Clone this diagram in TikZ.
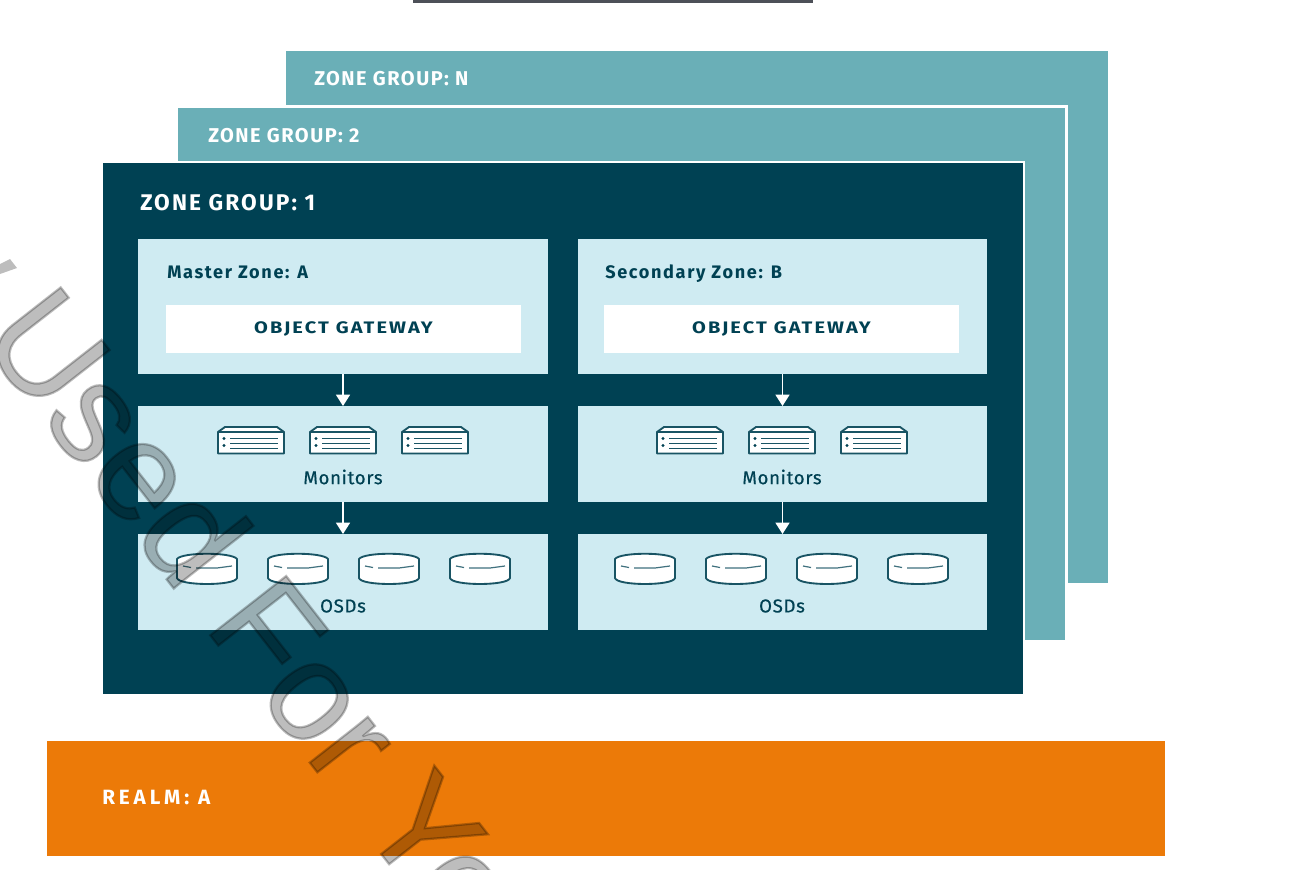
\documentclass[tikz,border=0pt]{standalone}
\usepackage{fontspec}
\setmainfont{Fira Sans}
\newfontfamily\wmfont[FakeBold=1.6]{Liberation Sans}
\newfontfamily\zonefont[LetterSpace=7.5]{Fira Sans}
\newfontfamily\frontfont[LetterSpace=9.5]{Fira Sans}
\newfontfamily\realmfont[LetterSpace=19]{Fira Sans}
\newfontfamily\gatefont[LetterSpace=12.5,FakeStretch=1.2]{Fira Sans}
\newfontfamily\panelfont[LetterSpace=9]{Fira Sans}
\newfontfamily\capfont[LetterSpace=3.5,FakeBold=0.5]{Fira Sans}
\usetikzlibrary{arrows.meta}
\definecolor{deep}{HTML}{004153}
\definecolor{teal}{HTML}{6AAFB7}
\definecolor{pale}{HTML}{CFEBF2}
\definecolor{realmc}{HTML}{EC7A08}
\definecolor{barc}{HTML}{4D5058}
\def\px{0.75pt}
\tikzset{
  x=0.75pt,y=-0.75pt,
  box/.style 2 args={anchor=north west,inner sep=0pt,outer sep=0pt,minimum width=#1*\px,minimum height=#2*\px},
  backzone/.style={fill=teal,draw=white,line width=2.2pt},
  frontzone/.style={fill=deep,draw=white,line width=1.6pt},
  panel/.style={fill=pale},
  gw/.style={fill=white,font=\gatefont\bfseries\fontsize{12.5}{16}\selectfont,text=deep},
  ztitle/.style={anchor=west,inner sep=0pt,text=white,font=\zonefont\bfseries\fontsize{15}{18}\selectfont},
  ptitle/.style={anchor=base west,inner sep=0pt,text=deep,font=\panelfont\bfseries\fontsize{13.6}{16}\selectfont},
  caption/.style={inner sep=0pt,text=deep,font=\capfont\fontsize{14}{16}\selectfont},
  link/.style={white,line width=1.1pt,-{Triangle[length=8.5pt,width=10.5pt,fill=white]}},
  icon/.style={draw=deep!90,line width=1.4pt,fill=white,line join=round},
  iconline/.style={draw=deep!90,line width=0.9pt},
  serverpic/.pic={
    \path[icon] (-33,13) -- (-33,-8.5) -- (-26,-13.5) -- (26,-13.5) -- (33,-8.5) -- (33,13) -- cycle;
    \draw[iconline] (-33,-8.5) -- (33,-8.5);
    \draw[iconline] (-21,-2) -- (27,-2) (-21,3) -- (27,3) (-21,8) -- (27,8);
    \fill[deep] (-27,-2) circle (1.6) (-27,5) circle (1.6);
  },
  diskpic/.pic={
    \path[icon] (-30,-10) .. controls (-25,-17) and (25,-17) .. (30,-10) -- (30,9)
      .. controls (28,17) and (-28,17) .. (-30,9) -- cycle;
    \draw[iconline,draw=deep!75] (-24,-3) -- (-16,-1.5);
    \draw[iconline,draw=deep!75] (-11,-1) -- (10,-1) -- (25,-3);
  },
}
\begin{document}
\begin{tikzpicture}
\useasboundingbox (0,0) rectangle (1296,870);
\clip (0,0) rectangle (1296,870);
\node[box={400}{3},fill=barc] (bar) at (413,0) {};

\node[box={822}{532},fill=teal] (zn) at (286,51) {};
\node[box={890}{535},backzone] (z2) at (176.5,106.5) {};
\node[box={922}{533},frontzone] (z1) at (102,162) {};
\node[ztitle] (zntxt) at (314,79) {ZONE GROUP: N};
\node[ztitle] (z2txt) at (208,136) {ZONE GROUP: 2};
\node[ztitle,font=\frontfont\bfseries\fontsize{17}{20}\selectfont] (z1txt) at (140,203) {ZONE GROUP: 1};

% left column
\node[box={410}{135},panel] (ma) at (138,239) {};
\node[ptitle] (matxt) at (167,278) {Master Zone: A};
\node[box={355}{48},gw] (ga) at (166,305) {OBJECT GATEWAY};
\node[box={410}{96},panel] (mona) at (138,406) {};
\node[caption] (monatxt) at (343,477) {Monitors};
\node[box={410}{96},panel] (osda) at (138,534) {};
\node[caption] (osdatxt) at (343,606) {OSDs};
\draw[link] (ma.south) -- (mona.north);
\draw[link] (mona.south) -- (osda.north);
\pic at (251,440.5) {serverpic};
\pic at (343,440.5) {serverpic};
\pic at (435,440.5) {serverpic};
\pic at (207,569) {diskpic};
\pic at (298,569) {diskpic};
\pic at (389,569) {diskpic};
\pic at (480,569) {diskpic};

% right column
\node[box={409}{135},panel] (sb) at (578,239) {};
\node[ptitle] (sbtxt) at (605,278) {Secondary Zone: B};
\node[box={355}{48},gw] (gb) at (604,305) {OBJECT GATEWAY};
\node[box={409}{96},panel] (monb) at (578,406) {};
\node[caption] (monbtxt) at (782,477) {Monitors};
\node[box={409}{96},panel] (osdb) at (578,534) {};
\node[caption] (osdbtxt) at (782,606) {OSDs};
\draw[link] (sb.south) -- (monb.north);
\draw[link] (monb.south) -- (osdb.north);
\pic at (690,440.5) {serverpic};
\pic at (782,440.5) {serverpic};
\pic at (874,440.5) {serverpic};
\pic at (645,569) {diskpic};
\pic at (736,569) {diskpic};
\pic at (827,569) {diskpic};
\pic at (918,569) {diskpic};

\node[box={1118}{115},fill=realmc] (realm) at (47,741) {};
\node[ztitle,font=\realmfont\bfseries\fontsize{15.5}{18}\selectfont] (realmtxt) at (102,798) {REALM: A};

% watermark
\fill[black,opacity=0.26] (0,264) -- (10,259) -- (17,268) -- (0,274) -- cycle;
\node[inner sep=0pt,anchor=base west,text=black,opacity=0.26,
  font=\wmfont\fontsize{105}{105}\selectfont,transform shape,rotate=-52] (wm) at (-22,338) {Used For You};
\end{tikzpicture}
\end{document}
